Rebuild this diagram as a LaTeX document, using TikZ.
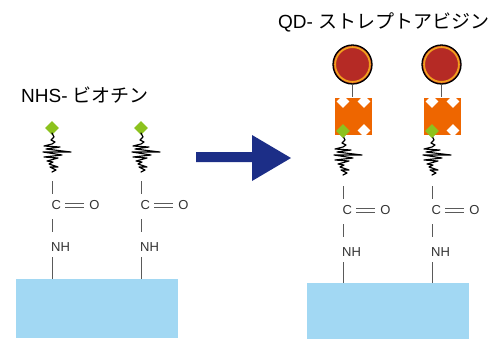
\documentclass[tikz,border=0pt]{standalone}
\usepackage{fontspec}
\setmainfont{Liberation Sans}
\newfontfamily\jp{Noto Sans CJK JP}
\usetikzlibrary{shapes.geometric}

\definecolor{navy}{RGB}{28,46,135}
\definecolor{surfblue}{RGB}{162,216,243}
\definecolor{biogreen}{RGB}{140,194,30}
\definecolor{saorange}{RGB}{238,102,0}
\definecolor{qdred}{RGB}{181,42,37}
\definecolor{qdring}{RGB}{240,160,30}
\definecolor{bondgray}{RGB}{90,90,90}
\definecolor{labelgray}{RGB}{50,50,50}

\tikzset{
  bond/.style={draw=bondgray, line width=1pt},
  chem/.style={font=\fontsize{13}{14}\selectfont, text=labelgray, inner sep=0pt,
               text height=9.3pt, text depth=0pt},
  title/.style={font=\fontsize{19}{21}\selectfont, inner sep=0pt, anchor=west},
  biotin/.style={diamond, aspect=1, fill=biogreen, minimum size=14pt, inner sep=0pt},
  notch/.style={diamond, aspect=1, fill=white, minimum size=13pt, inner sep=0pt},
  surface/.style={rectangle, fill=surfblue, inner sep=0pt, anchor=north west,
                  minimum width=162pt, minimum height=59pt},
  avidin/.style={rectangle, fill=saorange, inner sep=0pt, minimum size=37pt},
  qdot/.style={circle, fill=qdred, draw=black, line width=1.3pt, minimum size=39pt,
               inner sep=0pt,
               path picture={\draw[qdring, line width=1.8pt]
                 (path picture bounding box.center) circle (17.4pt);}},
  linker/.pic={
    \draw[black, line width=1.15pt, line join=round, line cap=round]
      (0,5) -- (2,9) -- (-1,12) -- (3,14) -- (0,16) -- (-8,18) -- (8,19)
      -- (-6,21) -- (19,24) -- (-9,24) -- (10,27) -- (-8,29) -- (6,30)
      -- (-5,33) -- (1,34) -- (-3,36) -- (6,39) -- (-2,39) -- (4,42)
      -- (0,44);
  }
}

\begin{document}
\begin{tikzpicture}[x=1pt, y=-1pt]
  \useasboundingbox (0,0) rectangle (494,338);

  % titles
  \node[title] (tl) at (21,95) {NHS- {\jp ビオチン}};
  \node[title] (tr) at (278,22) {QD- {\jp ストレプトアビジン}};

  % surfaces
  \node[surface] (sL) at (16,279) {};
  \node[surface] (sR) at (307,283) {};

  % reaction arrow
  \fill[navy] (196,152) -- (252,152) -- (252,135) -- (291,158)
    -- (252,181) -- (252,162) -- (196,162) -- cycle;

  % biotinylated linkers on both surfaces
  \foreach \cx/\dd/\dy/\s/\n in {52/0/0/sL/L1, 141/0/0/sL/L2, 343/3/5/sR/R1, 432/3/5/sR/R2}{
    \node[biotin] (b\n) at (\cx,128+\dd) {};
    \pic at (b\n.center) {linker};
    \coordinate (t\n) at (\cx,181+\dy);
    \node[chem, anchor=west] (c\n) at (\cx-0.5,205+\dy) {C};
    \node[chem] (o\n) at (\cx+42.5,205+\dy) {O};
    \node[chem, anchor=west] (n\n) at (\cx-1,247+\dy) {NH};
    \draw[bond, shorten >=6pt] (t\n) -- (t\n |- c\n.north);
    \draw[bond, shorten <=4pt, shorten >=5pt] ([yshift=2pt]c\n.east) -- ([yshift=2pt]o\n.west);
    \draw[bond, shorten <=4pt, shorten >=5pt] ([yshift=-2pt]c\n.east) -- ([yshift=-2pt]o\n.west);
    \draw[bond, shorten <=9.5pt, shorten >=10pt] (t\n |- c\n.south) -- (t\n |- n\n.north);
    \draw[bond, shorten <=5.5pt] (t\n |- n\n.south) -- (t\n |- \s.north);
  }

  % streptavidin-coated quantum dots bound to the right-hand biotins
  \foreach \cx/\n in {343/R1, 432/R2}{
    \node[avidin] (sq\n) at (\cx+10.5,116) {};
    \node[notch] (w1\n) at ([shift={(-10.5,-14.5)}]sq\n.center) {};
    \node[notch] (w2\n) at ([shift={(10.5,-14.5)}]sq\n.center) {};
    \node[notch] (w3\n) at ([shift={(10.5,14.5)}]sq\n.center) {};
    \node[biotin] at (b\n) {};
    \node[qdot] (q\n) at (\cx+9.5,64.5) {};
    \draw[bond] (q\n.south) -- (q\n.south |- sq\n.north);
  }
\end{tikzpicture}
\end{document}
